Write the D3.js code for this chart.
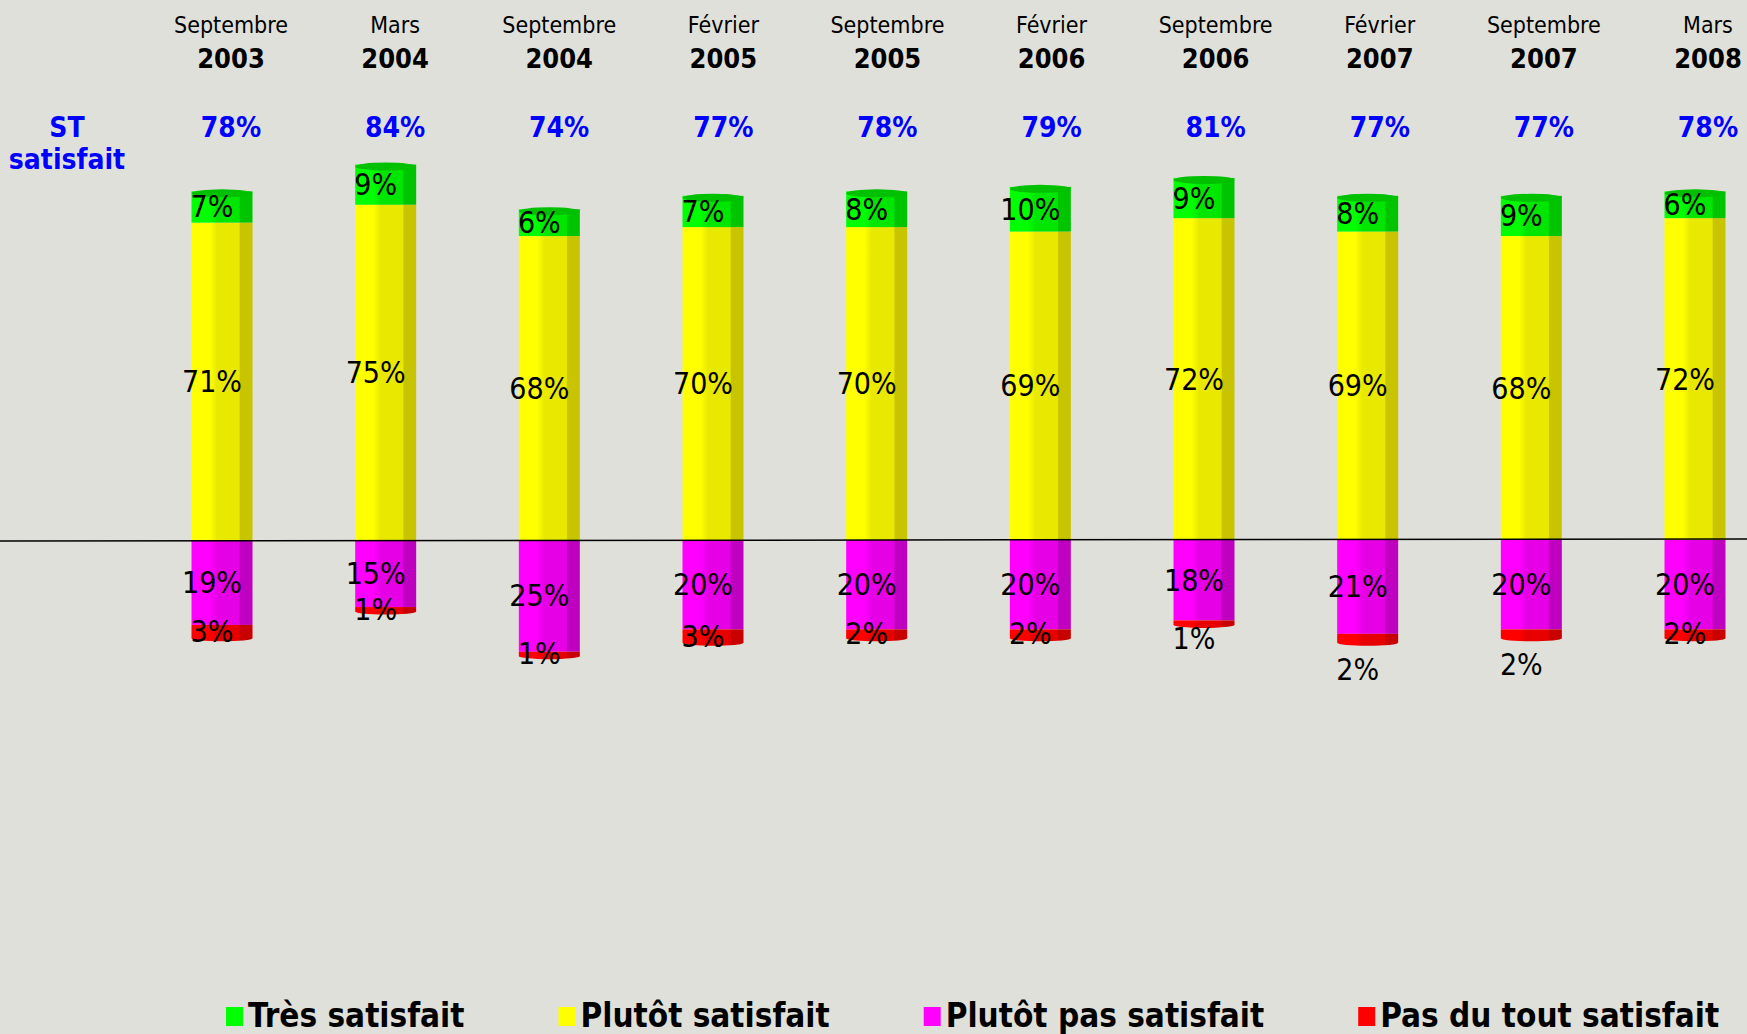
<!DOCTYPE html>
<html>
<head>
<meta charset="utf-8">
<script src="https://cdn.jsdelivr.net/npm/d3@7"></script>
<style>
    body { margin: 0; background: #e0e0da; }
    svg { display: block; font-family: "DejaVu Sans Condensed", "DejaVu Sans", sans-serif; }
</style>
</head>
<body>
<svg id="chart" width="1747" height="1034"></svg>
<script>
// survey waves
const months = ["Septembre", "Mars", "Septembre", "Février", "Septembre", "Février", "Septembre", "Février", "Septembre", "Mars"];
const years = ["2003", "2004", "2004", "2005", "2005", "2006", "2006", "2007", "2007", "2008"];

// "ST satisfait" totals
const stSatisfait = [78, 84, 74, 77, 78, 79, 81, 77, 77, 78];

// series values (%)
const tresSatisfait = [7, 9, 6, 7, 8, 10, 9, 8, 9, 6];
const plutotSatisfait = [71, 75, 68, 70, 70, 69, 72, 69, 68, 72];
const plutotPasSatisfait = [19, 15, 25, 20, 20, 20, 18, 21, 20, 20];
const pasDuToutSatisfait = [3, 1, 1, 3, 2, 2, 1, 2, 2, 2];

const seriesNames = ["Très satisfait", "Plutôt satisfait", "Plutôt pas satisfait", "Pas du tout satisfait"];

// colors: [light side, mid, dark side, cap]
const seriesColors = {
    "Très satisfait": ["#00ff00", "#00e600", "#00c400", "#00c000"],
    "Plutôt satisfait": ["#ffff00", "#e8e800", "#c8c400", "#d0d000"],
    "Plutôt pas satisfait": ["#ff00ff", "#e600e6", "#c000c0", "#c000c0"],
    "Pas du tout satisfait": ["#ff0000", "#e60000", "#c80000", "#c00000"]
};

// label nudges for the red labels that were moved below the bars
const redLabelDrop = [0, 0, 0, 0, 0, 0, 16, 31, 31, 0];

const width = 1747;
const height = 1034;
const baseline = 540;
const barWidth = 61;

const svg = d3.select("#chart");

const waves = months.map(function (m, i) { return i; });

const xHeader = d3.scalePoint().domain(waves).range([231, 1708]);
const xBar = d3.scalePoint().domain(waves).range([222, 1695]);
const y = d3.scaleLinear().domain([0, 100]).range([baseline, baseline - 447]);

// gradients
const defs = svg.append("defs");
seriesNames.forEach(function (name, k) {
    const c = seriesColors[name];
    const g = defs.append("linearGradient")
        .attr("id", `grad-${k}`)
        .attr("x1", 0).attr("x2", 1).attr("y1", 0).attr("y2", 0);
    [[0, c[0]], [0.3, c[0]], [0.42, c[1]], [0.78, c[1]], [0.8, c[2]], [1, c[2]]].forEach(function (s) {
        g.append("stop").attr("offset", s[0]).attr("stop-color", s[1]);
    });
});

// build segments
const segments = [];
waves.forEach(function (i) {
    segments.push({ wave: i, k: 1, v: plutotSatisfait[i], y0: 0, y1: plutotSatisfait[i] });
    segments.push({ wave: i, k: 0, v: tresSatisfait[i], y0: plutotSatisfait[i], y1: plutotSatisfait[i] + tresSatisfait[i] });
    segments.push({ wave: i, k: 2, v: plutotPasSatisfait[i], y0: 0, y1: -plutotPasSatisfait[i] });
    segments.push({ wave: i, k: 3, v: pasDuToutSatisfait[i], y0: -plutotPasSatisfait[i], y1: -plutotPasSatisfait[i] - pasDuToutSatisfait[i] });
});

// bars
svg.append("g")
    .selectAll("rect")
    .data(segments)
    .join("rect")
    .attr("x", function (d) { return xBar(d.wave) - barWidth / 2; })
    .attr("y", function (d) { return Math.min(y(d.y0), y(d.y1)); })
    .attr("width", barWidth)
    .attr("height", function (d) { return Math.abs(y(d.y0) - y(d.y1)); })
    .style("fill", function (d) { return `url(#grad-${d.k})`; });

// top caps and bottom caps
svg.append("g")
    .selectAll("ellipse")
    .data(segments.filter(function (d) { return d.k === 0; }))
    .join("ellipse")
    .attr("cx", function (d) { return xBar(d.wave); })
    .attr("cy", function (d) { return y(d.y1) + 2; })
    .attr("rx", barWidth / 2)
    .attr("ry", 4)
    .style("fill", seriesColors["Très satisfait"][3]);

svg.append("g")
    .selectAll("ellipse")
    .data(segments.filter(function (d) { return d.k === 3; }))
    .join("ellipse")
    .attr("cx", function (d) { return xBar(d.wave); })
    .attr("cy", function (d) { return y(d.y1); })
    .attr("rx", barWidth / 2)
    .attr("ry", 3)
    .style("fill", "url(#grad-3)");

// baseline
svg.append("line")
    .attr("x1", 0).attr("x2", width)
    .attr("y1", y(0) + 1).attr("y2", y(0) - 1)
    .style("stroke", "#000")
    .style("stroke-width", 1.5);

// labels in bars
svg.append("g")
    .selectAll("text")
    .data(segments)
    .join("text")
    .attr("x", function (d) { return xBar(d.wave) - 10; })
    .attr("y", function (d) {
        const mid = (y(d.y0) + y(d.y1)) / 2;
        return d.k === 3 ? mid + redLabelDrop[d.wave] : mid;
    })
    .attr("text-anchor", "middle")
    .attr("dominant-baseline", "central")
    .attr("font-size", "30px")
    .style("fill", "#000")
    .text(function (d) { return d.v + "%"; });

// header: months and years
svg.append("g")
    .selectAll("text")
    .data(waves)
    .join("text")
    .attr("x", function (d) { return xHeader(d); })
    .attr("y", 33)
    .attr("text-anchor", "middle")
    .attr("font-size", "23px")
    .text(function (d) { return months[d]; });

svg.append("g")
    .selectAll("text")
    .data(waves)
    .join("text")
    .attr("x", function (d) { return xHeader(d); })
    .attr("y", 68)
    .attr("text-anchor", "middle")
    .attr("font-size", "27px")
    .attr("font-weight", "bold")
    .text(function (d) { return years[d]; });

// ST satisfait row
svg.append("g")
    .selectAll("text")
    .data(waves)
    .join("text")
    .attr("x", function (d) { return xHeader(d); })
    .attr("y", 137)
    .attr("text-anchor", "middle")
    .attr("font-size", "28px")
    .attr("font-weight", "bold")
    .style("fill", "#0000ff")
    .text(function (d) { return stSatisfait[d] + "%"; });

const stTitle = svg.append("text")
    .attr("text-anchor", "middle")
    .attr("font-size", "28px")
    .attr("font-weight", "bold")
    .style("fill", "#0000ff");
stTitle.append("tspan").attr("x", 67).attr("y", 137).text("ST");
stTitle.append("tspan").attr("x", 67).attr("y", 169).text("satisfait");

// legend
const legend = svg.append("g");
let lx = 226;
seriesNames.forEach(function (name) {
    legend.append("rect")
        .attr("x", lx)
        .attr("y", 1007)
        .attr("width", 17)
        .attr("height", 19)
        .style("fill", seriesColors[name][0]);
    const t = legend.append("text")
        .attr("x", lx + 22)
        .attr("y", 1027)
        .attr("font-size", "33px")
        .attr("font-weight", "bold")
        .text(name);
    lx += 22 + t.node().getComputedTextLength() + 94;
});
</script>
</body>
</html>
